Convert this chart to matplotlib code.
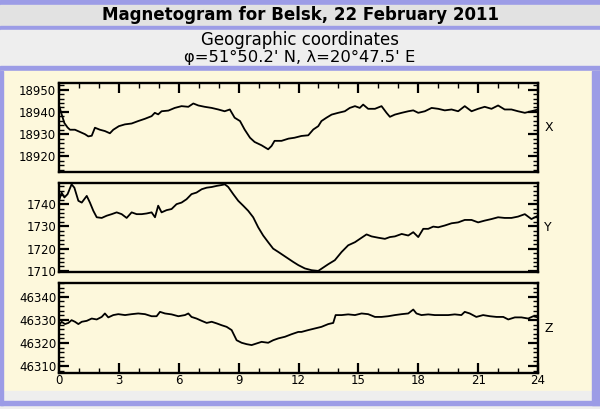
import matplotlib
matplotlib.use("Agg")
import matplotlib.pyplot as plt
from matplotlib.patches import Rectangle
from matplotlib.ticker import MultipleLocator

# hours (UT) and field values in nT
x_hours = [0.00, 0.13, 0.27, 0.43, 0.55, 0.80, 1.05, 1.30, 1.47, 1.64,
           1.80, 2.05, 2.30, 2.55, 2.72, 3.00, 3.30, 3.64, 3.97, 4.30,
           4.64, 4.80, 4.97, 5.14, 5.48, 5.80, 6.14, 6.48, 6.73, 6.98,
           7.30, 7.65, 7.98, 8.30, 8.56, 8.80, 9.07, 9.30, 9.57, 9.80,
           10.15, 10.48, 10.65, 10.80, 11.15, 11.50, 11.80, 12.15, 12.49, 12.74,
           12.99, 13.15, 13.40, 13.66, 13.99, 14.32, 14.57, 14.83, 15.07, 15.24,
           15.49, 15.83, 16.16, 16.41, 16.58, 16.83, 17.17, 17.50, 17.75, 18.00,
           18.33, 18.67, 19.00, 19.33, 19.67, 20.00, 20.33, 20.67, 21.00, 21.33,
           21.67, 22.00, 22.33, 22.67, 23.00, 23.34, 23.67, 24.00]
x_values = [18943.0, 18939.0, 18935.0, 18933.0, 18932.0, 18932.0, 18931.0, 18930.0, 18929.0, 18929.3,
            18932.9, 18932.0, 18931.4, 18930.4, 18932.0, 18933.6, 18934.4, 18934.8, 18935.9, 18936.9,
            18938.1, 18939.6, 18938.9, 18940.3, 18940.6, 18941.8, 18942.6, 18942.3, 18943.8, 18942.9,
            18942.3, 18941.8, 18941.1, 18940.3, 18941.1, 18937.4, 18935.9, 18932.1, 18928.4, 18926.5,
            18925.0, 18923.2, 18924.7, 18927.0, 18927.0, 18928.0, 18928.4, 18929.2, 18929.5, 18932.1,
            18933.6, 18935.9, 18937.4, 18938.8, 18939.6, 18940.3, 18941.8, 18942.6, 18941.8, 18943.3,
            18941.4, 18941.4, 18942.6, 18939.6, 18937.8, 18938.8, 18939.6, 18940.3, 18940.7, 18939.6,
            18940.3, 18941.8, 18941.4, 18940.7, 18941.1, 18940.3, 18942.6, 18940.3, 18941.4, 18942.3,
            18941.4, 18942.9, 18941.1, 18941.1, 18940.3, 18939.6, 18940.3, 18941.1]

y_hours = [0.00, 0.13, 0.27, 0.43, 0.63, 0.77, 0.97, 1.14, 1.39, 1.55,
           1.72, 1.89, 2.14, 2.39, 2.64, 2.89, 3.14, 3.39, 3.64, 3.89,
           4.14, 4.39, 4.64, 4.81, 4.97, 5.14, 5.39, 5.64, 5.89, 6.14,
           6.39, 6.64, 6.89, 7.15, 7.40, 7.65, 7.90, 8.15, 8.31, 8.48,
           8.73, 8.98, 9.23, 9.48, 9.73, 9.98, 10.23, 10.48, 10.73, 10.99,
           11.24, 11.49, 11.74, 11.99, 12.32, 12.66, 12.99, 13.24, 13.49, 13.82,
           14.16, 14.49, 14.83, 15.16, 15.41, 15.66, 16.00, 16.33, 16.58, 16.83,
           17.17, 17.50, 17.75, 18.00, 18.25, 18.50, 18.75, 19.00, 19.33, 19.67,
           20.00, 20.33, 20.67, 21.00, 21.33, 21.67, 22.00, 22.33, 22.67, 23.00,
           23.34, 23.67, 24.00]
y_values = [1741.5, 1745.2, 1743.0, 1744.5, 1748.9, 1747.4, 1741.5, 1740.7, 1743.7, 1740.7,
            1737.0, 1734.1, 1733.8, 1734.8, 1735.5, 1736.3, 1735.5, 1733.8, 1736.3, 1735.5,
            1735.5, 1735.8, 1736.3, 1734.1, 1739.3, 1736.3, 1737.3, 1737.8, 1740.0, 1740.7,
            1742.2, 1744.5, 1745.2, 1746.7, 1747.4, 1747.7, 1748.2, 1748.6, 1748.9, 1747.7,
            1744.5, 1741.5, 1739.3, 1737.0, 1734.1, 1729.6, 1725.9, 1722.9, 1720.0, 1718.5,
            1717.0, 1715.5, 1714.0, 1712.6, 1711.1, 1710.3, 1710.0, 1711.5, 1713.0, 1714.8,
            1718.5, 1721.5, 1722.9, 1724.9, 1726.4, 1725.5, 1724.9, 1724.4, 1725.2, 1725.5,
            1726.6, 1725.9, 1727.4, 1725.2, 1728.9, 1728.9, 1729.9, 1729.6, 1730.4, 1731.4,
            1731.8, 1732.9, 1732.9, 1731.8, 1732.6, 1733.3, 1734.1, 1733.8, 1733.8, 1734.4,
            1735.5, 1733.3, 1734.8]

z_hours = [0.00, 0.13, 0.30, 0.47, 0.63, 0.80, 0.97, 1.14, 1.39, 1.64,
           1.89, 2.14, 2.30, 2.47, 2.72, 2.97, 3.31, 3.64, 3.97, 4.31,
           4.64, 4.89, 5.06, 5.31, 5.64, 5.98, 6.31, 6.48, 6.64, 6.89,
           7.15, 7.40, 7.65, 7.90, 8.15, 8.40, 8.65, 8.90, 9.15, 9.40,
           9.65, 9.90, 10.15, 10.48, 10.73, 10.99, 11.32, 11.65, 11.99, 12.15,
           12.49, 12.82, 13.15, 13.49, 13.74, 13.86, 14.16, 14.49, 14.83, 15.16,
           15.49, 15.83, 16.16, 16.49, 16.83, 17.17, 17.50, 17.75, 17.91, 18.16,
           18.50, 18.83, 19.16, 19.50, 19.83, 20.16, 20.33, 20.58, 20.91, 21.25,
           21.59, 21.92, 22.26, 22.51, 22.84, 23.17, 23.51, 23.76, 24.00]
z_values = [46327.7, 46329.2, 46328.2, 46328.7, 46329.9, 46329.2, 46328.2, 46329.2, 46329.6, 46330.6,
            46330.2, 46331.3, 46332.8, 46331.1, 46332.1, 46332.5, 46332.1, 46332.5, 46332.8, 46332.5,
            46331.6, 46331.6, 46333.5, 46332.8, 46332.4, 46331.6, 46332.1, 46332.8, 46331.3, 46330.6,
            46329.6, 46328.7, 46329.2, 46328.5, 46327.7, 46327.0, 46325.6, 46321.2, 46320.1, 46319.5,
            46319.1, 46319.8, 46320.5, 46320.1, 46321.2, 46322.0, 46322.7, 46323.8, 46324.8, 46324.8,
            46325.6, 46326.3, 46327.0, 46328.2, 46328.7, 46332.1, 46332.1, 46332.4, 46332.1, 46332.8,
            46332.5, 46331.3, 46331.3, 46331.6, 46332.1, 46332.5, 46332.8, 46334.5, 46332.8, 46332.1,
            46332.4, 46332.1, 46332.1, 46332.1, 46332.4, 46332.1, 46333.5, 46332.8, 46331.3, 46332.1,
            46331.6, 46331.3, 46331.3, 46330.2, 46331.1, 46331.1, 46330.6, 46331.6, 46331.1]

components = ["X", "Y", "Z"]
hour_ticks = [0, 3, 6, 9, 12, 15, 18, 21, 24]

W, H = 600, 409
BLUE = "#9c9ce6"
GREY1 = "#e2e2e2"
GREY2 = "#eeeeee"
CREAM = "#fdf8dc"

fig = plt.figure(figsize=(W / 100, H / 100), dpi=100)
fig.patch.set_facecolor(GREY2)


def band(x0, y0, x1, y1, color):
    # pixel box (top-left origin) -> figure fraction
    fig.patches.append(Rectangle((x0 / W, 1 - y1 / H), (x1 - x0) / W, (y1 - y0) / H,
                                 transform=fig.transFigure, color=color, zorder=-5))


band(0, 0, W, 5, BLUE)
band(0, 5, W, 26, GREY1)
band(0, 26, W, 30, BLUE)
band(0, 30, W, 66, GREY2)
band(0, 66, W, 71, BLUE)
band(0, 71, W, 391, CREAM)
band(0, 391, W, 401, GREY2)
band(0, 401, W, 405, BLUE)
band(0, 71, 3, 405, BLUE)
band(592, 71, W, 405, BLUE)

fig.text(0.5, 1 - 15.5 / H, "Magnetogram for Belsk, 22 February 2011",
         ha="center", va="center", fontsize=12, fontweight="bold")
fig.text(0.5, 1 - 40 / H, "Geographic coordinates", ha="center", va="center", fontsize=12)
fig.text(0.5, 1 - 57 / H, "\u03c6=51\u00b050.2' N, \u03bb=20\u00b047.5' E",
         ha="center", va="center", fontsize=11.8)

boxes = [(83, 172), (183, 272), (283, 373)]
limits = [(18913, 18953), (1709.5, 1749.5), (46307, 46346)]
series = [(x_hours, x_values), (y_hours, y_values), (z_hours, z_values)]

for i, (name, (top, bot), lim, (hh, vv)) in enumerate(zip(components, boxes, limits, series)):
    ax = fig.add_axes([59 / W, 1 - bot / H, (538 - 59) / W, (bot - top) / H])
    ax.set_facecolor(CREAM)
    ax.plot(hh, vv, color="black", lw=1.3)
    ax.set_xlim(0, 24)
    ax.set_ylim(*lim)
    ax.yaxis.set_major_locator(MultipleLocator(10))
    ax.yaxis.set_minor_locator(MultipleLocator(2))
    ax.set_xticks(hour_ticks)
    ax.xaxis.set_minor_locator(MultipleLocator(1))
    for s in ax.spines.values():
        s.set_linewidth(1.7)
    ax.tick_params(which="both", direction="in", left=True, right=True,
                   top=(i == 0), bottom=(i == 2), labelsize=8.5, pad=2)
    ax.tick_params(which="major", length=7, width=1.6)
    ax.tick_params(which="minor", length=3.5, width=1)
    ax.tick_params(axis="x", labelbottom=(i == 2), pad=1)
    ax.text(1.013, 0.5, name, transform=ax.transAxes, ha="left", va="center", fontsize=9)

fig.savefig("out.png", dpi=100, facecolor=fig.get_facecolor())
